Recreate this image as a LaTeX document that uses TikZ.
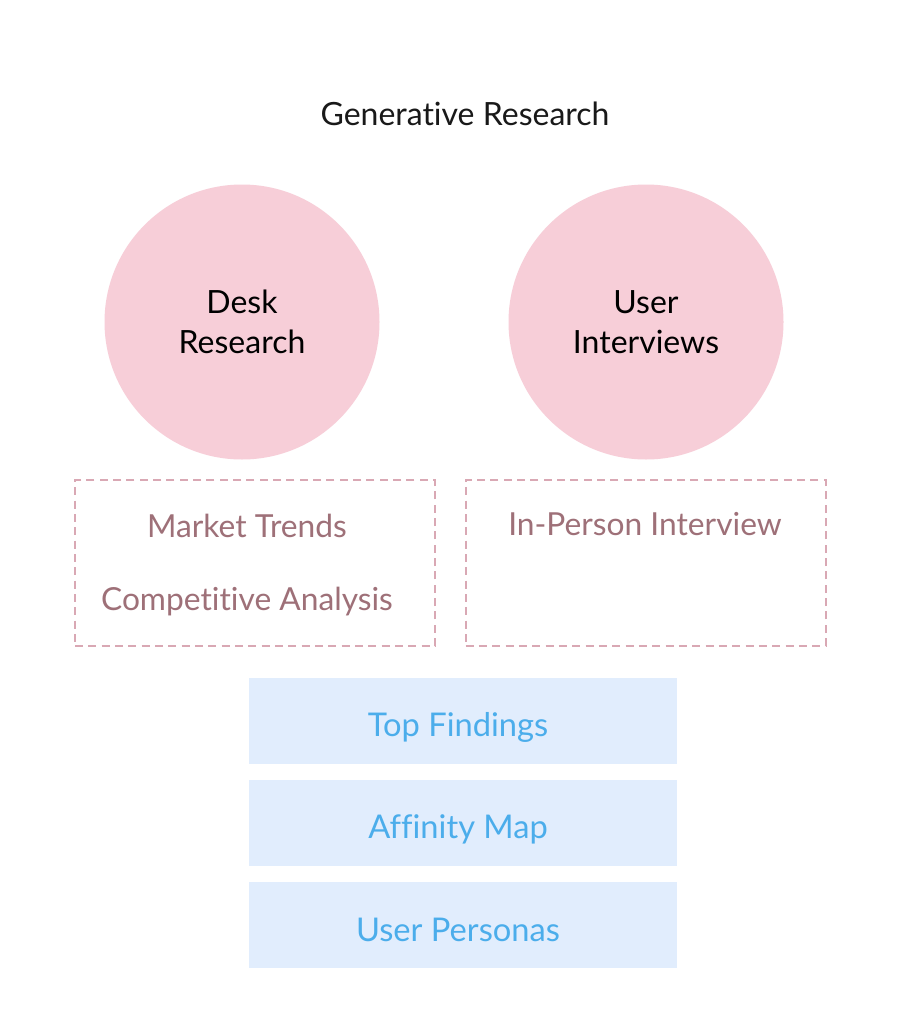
\documentclass[tikz,border=0pt]{standalone}
\usepackage{fontspec}
\setmainfont[Ligatures=NoCommon]{Lato}
\usepackage{tikz}
\usetikzlibrary{positioning,calc}
\definecolor{CirclePink}{RGB}{247,206,216}
\definecolor{DashPink}{RGB}{217,168,180}
\definecolor{MauveText}{RGB}{158,112,120}
\definecolor{PaleBlue}{RGB}{225,237,253}
\definecolor{SkyText}{RGB}{75,173,235}
\tikzset{
  phase/.style={circle,fill=CirclePink,minimum size=275*0.75pt,inner sep=0pt,align=center,
    font=\fontsize{24}{30}\selectfont,text=black},
  method/.style={draw=DashPink,dash pattern=on 6pt off 4pt,line width=1.5pt,
    minimum width=360*0.75pt,minimum height=166*0.75pt,inner sep=0pt},
  item/.style={text=MauveText,font=\fontsize{23.8}{28}\selectfont,inner sep=0pt},
  output/.style={fill=PaleBlue,minimum width=428*0.75pt,minimum height=86*0.75pt,inner sep=0pt},
  outtext/.style={text=SkyText,font=\fontsize{24.5}{28}\selectfont,inner sep=0pt},
}

\begin{document}
\begin{tikzpicture}[x=0.75pt,y=-0.75pt]
\useasboundingbox[fill=white] (0,0) rectangle (912,1024);
\node[font=\fontsize{24}{28}\selectfont,text=black!90] (title) at (465,114) {Generative Research};
% circles
\node[phase] (desk) at (242,322) {Desk\\Research};
\node[phase] (user) at (646,322) {User\\Interviews};
% dashed method boxes
\node[method] (deskbox) at (255,563) {};
\node[method] (userbox) at (645.5,563) {};
\node[item] (trends) at (247,526) {Market Trends};
\node[item] (compet) at (247,602) {Competitive Analysis};
\node[item] (inperson) at (645,524) {In-Person Interview};
% outputs
\node[output] (findings) at (463,721) {};
\node[output] (affinity) at (463,823) {};
\node[output] (personas) at (463,925) {};
\node[outtext] (findingslbl) at (458,727) {Top Findings};
\node[outtext] (affinitylbl) at (458,829) {Affinity Map};
\node[outtext] (personaslbl) at (458,930) {User Personas};
\end{tikzpicture}
\end{document}
